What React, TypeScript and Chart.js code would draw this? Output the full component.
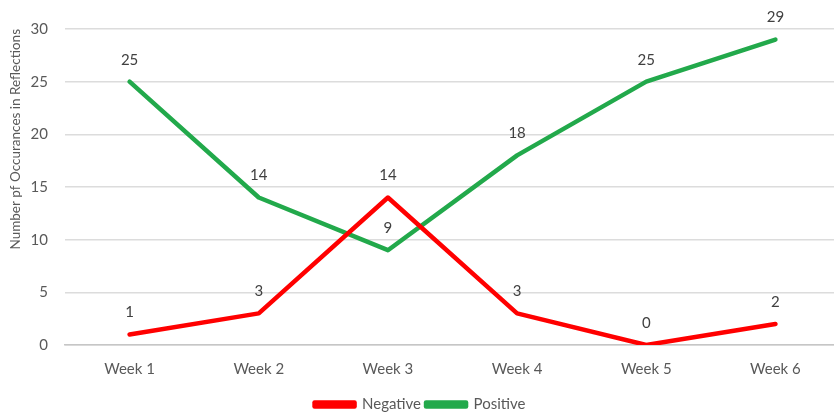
import React, { useEffect, useRef } from "react";
import { Chart, registerables } from "chart.js";

Chart.register(...registerables);

const categories = ["Week 1", "Week 2", "Week 3", "Week 4", "Week 5", "Week 6"];
const negativeValues = [1, 3, 14, 3, 0, 2];
const positiveValues = [25, 14, 9, 18, 25, 29];
const yTicks = [0, 5, 10, 15, 20, 25, 30];

const FONT = "Lato, 'Open Sans', sans-serif";
const TEXT = "#595959";

const dataLabelPlugin = {
  id: "dataLabels",
  afterDatasetsDraw(chart: any) {
    const ctx = chart.ctx;
    ctx.save();
    ctx.font = `15px ${FONT}`;
    ctx.fillStyle = "#404040";
    ctx.textAlign = "center";
    ctx.textBaseline = "middle";
    chart.data.datasets.forEach((ds: any, i: number) => {
      const meta = chart.getDatasetMeta(i);
      meta.data.forEach((pt: any, j: number) => {
        ctx.fillText(String(ds.data[j]), pt.x, pt.y - 22);
      });
    });
    ctx.restore();
  },
};

export default function App() {
  const ref = useRef<HTMLCanvasElement>(null);
  useEffect(() => {
    document.body.style.margin = "0";
    const chart = new Chart(ref.current!, {
      type: "line",
      data: {
        labels: categories,
        datasets: [
          {
            label: "Negative",
            data: negativeValues,
            borderColor: "#FF0000",
            backgroundColor: "#FF0000",
            borderWidth: 4.5,
            pointRadius: 0,
            tension: 0,
            borderCapStyle: "round",
            borderJoinStyle: "round",
          },
          {
            label: "Positive",
            data: positiveValues,
            borderColor: "#22A94B",
            backgroundColor: "#22A94B",
            borderWidth: 4.5,
            pointRadius: 0,
            tension: 0,
            borderCapStyle: "round",
            borderJoinStyle: "round",
          },
        ],
      },
      options: {
        animation: false,
        responsive: false,
        maintainAspectRatio: false,
        layout: { padding: { top: 29, right: 0, left: 0, bottom: 0 } },
        plugins: {
          legend: {
            position: "bottom",
            labels: {
              boxWidth: 40,
              boxHeight: 4,
              padding: 5,
              color: TEXT,
              font: { family: FONT, size: 15 },
            },
          },
          tooltip: { enabled: false },
        },
        scales: {
          x: {
            offset: true,
            grid: { display: false, drawTicks: false },
            border: { display: true, color: "#c6c6c6", width: 1.5 },
            ticks: {
              color: TEXT,
              font: { family: FONT, size: 15 },
              padding: 15,
            },
            afterFit: (s: any) => {
              s.height = 47;
            },
          },
          y: {
            min: 0,
            max: 30,
            afterBuildTicks: (s: any) => {
              s.ticks = yTicks.map((v) => ({ value: v }));
            },
            grid: {
              color: "#dcdcdc",
              lineWidth: 1.5,
              drawTicks: false,
            },
            border: { display: false },
            ticks: {
              color: TEXT,
              font: { family: FONT, size: 15 },
              padding: 17,
            },
            title: {
              display: true,
              text: "Number pf Occurances in Reflections",
              align: "end",
              color: TEXT,
              font: { family: FONT, size: 13.5 },
              padding: { top: 8, bottom: 0 },
            },
            afterFit: (s: any) => {
              s.width = 65;
            },
          },
        },
      },
      plugins: [dataLabelPlugin],
    });
    return () => chart.destroy();
  }, []);
  return (
    <div style={{ width: 834, height: 415, overflow: "hidden" }}>
      <canvas ref={ref} width={840} height={422} style={{ display: "block" }} />
    </div>
  );
}
